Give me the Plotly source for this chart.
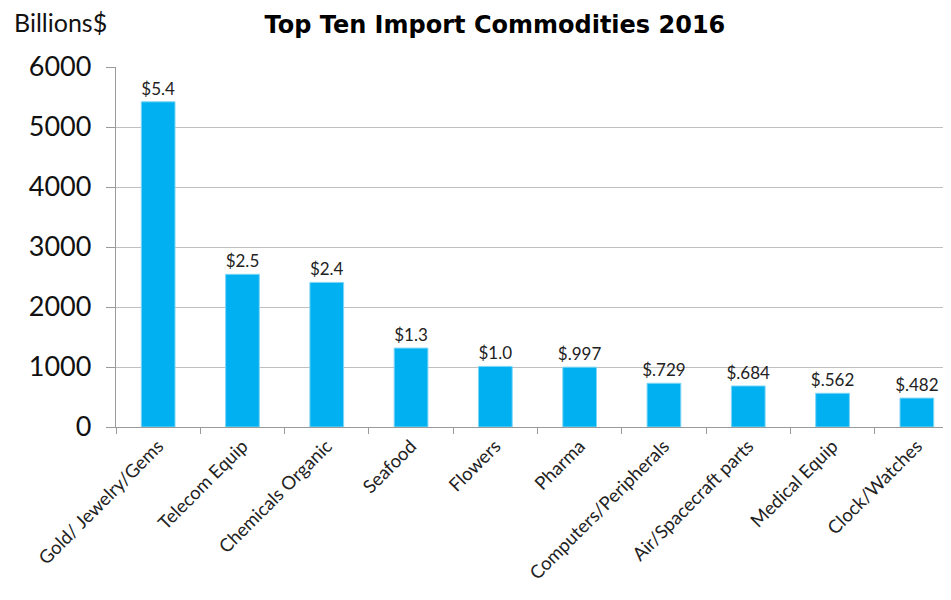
import plotly.graph_objects as go

categories = ["Gold/ Jewelry/Gems", "Telecom Equip", "Chemicals Organic", "Seafood", "Flowers",
              "Pharma", "Computers/Peripherals", "Air/Spacecraft parts", "Medical Equip", "Clock/Watches"]
values = [5420, 2545, 2410, 1315, 1010, 997, 729, 684, 562, 482]
labels = ["$5.4", "$2.5", "$2.4", "$1.3", "$1.0", "$.997", "$.729", "$.684", "$.562", "$.482"]
y_ticks = [0, 1000, 2000, 3000, 4000, 5000, 6000]

FONT = "Lato"

fig = go.Figure(go.Bar(
    x=categories, y=values, text=labels, textposition="outside",
    constraintext="none",
    textfont=dict(family=FONT, size=17, color="#222222"),
    marker=dict(color="#00B0F0", line=dict(color="#7fd6f6", width=1)),
    cliponaxis=False,
))

fig.update_layout(
    width=951, height=600,
    paper_bgcolor="white", plot_bgcolor="white",
    margin=dict(l=108, r=0, t=59, b=181),
    bargap=0.6,
    showlegend=False,
    title=dict(text="<b>Top Ten Import Commodities 2016</b>", x=0.512, xanchor="center",
               y=0.972, yanchor="middle", font=dict(family="DejaVu Sans", size=24, color="black")),
    annotations=[dict(text="Billions$", xref="paper", yref="paper", x=-0.1235, y=1.125,
                      xanchor="left", yanchor="middle", showarrow=False,
                      font=dict(family=FONT, size=25, color="#111111"))],
)
fig.update_yaxes(range=[0, 6000], tickvals=y_ticks, showgrid=True, gridcolor="#bfbfbf", gridwidth=1.3,
                 showline=True, linecolor="#9a9a9a", linewidth=1.3, ticks="outside", ticklen=9,
                 tickcolor="#9a9a9a", tickfont=dict(family=FONT, size=27, color="#111111"),
                 ticklabelstandoff=9, zeroline=False)
fig.update_xaxes(showline=True, linecolor="#9a9a9a", linewidth=1.3, ticks="outside", ticklen=6,
                 tickcolor="#9a9a9a", tickson="boundaries", tickangle=-45,
                 tickfont=dict(family=FONT, size=18.5, color="#222222"))

fig.write_html("out.html")
